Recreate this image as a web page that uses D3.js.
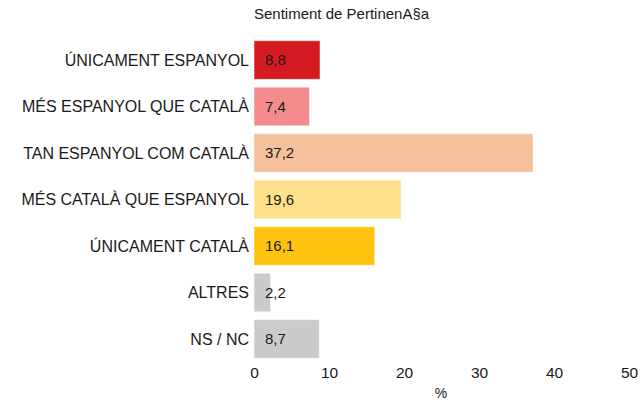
<!DOCTYPE html>
<html>
<head>
<meta charset="utf-8" />
<script src="https://cdn.jsdelivr.net/npm/d3@7"></script>
<style>
  html, body { margin: 0; padding: 0; background: #fff; }
  svg { display: block; font-family: "Liberation Sans", Arial, sans-serif; }
  .cat { font-size: 16px; fill: #1a1a1a; text-anchor: end; }
  .val { font-size: 15px; fill: #1a1a1a; }
  .tick text { font-size: 15.5px; fill: #1a1a1a; }
</style>
</head>
<body>
<svg id="chart" width="641" height="401"></svg>
<script>
const categories = [
  "ÚNICAMENT ESPANYOL",
  "MÉS ESPANYOL QUE CATALÀ",
  "TAN ESPANYOL COM CATALÀ",
  "MÉS CATALÀ QUE ESPANYOL",
  "ÚNICAMENT CATALÀ",
  "ALTRES",
  "NS / NC"
];
const values = [8.8, 7.4, 37.2, 19.6, 16.1, 2.2, 8.7];
const colors = ["#d51a22", "#f48b8c", "#f4c19b", "#fee08a", "#fec20f", "#cbcbcb", "#cbcbcb"];
const xTicks = [0, 10, 20, 30, 40, 50];

const svg = d3.select('#chart');

const x = d3.scaleLinear().domain([0, 50]).range([254, 629]);
const y = d3.scaleBand().domain(categories).range([37, 362]).paddingInner(0.17).paddingOuter(0.08);

svg.append('text')
   .attr('x', 254)
   .attr('y', 19)
   .style('font-size', '15px')
   .style('fill', '#1a1a1a')
   .text('Sentiment de PertinenA§a');

const rows = svg.append('g')
   .selectAll('g')
   .data(categories)
   .enter()
   .append('g');

rows.append('rect')
    .attr('x', x(0))
    .attr('y', d => y(d))
    .attr('width', (d, i) => x(values[i]) - x(0))
    .attr('height', y.bandwidth())
    .attr('fill', (d, i) => colors[i])
    .attr('stroke', 'rgba(255,255,255,0.5)')
    .attr('stroke-width', 1);

rows.append('text')
    .attr('class', 'cat')
    .attr('x', x(0) - 5)
    .attr('y', d => y(d) + y.bandwidth() / 2)
    .attr('dy', '0.36em')
    .text(d => d);

rows.append('text')
    .attr('class', 'val')
    .attr('x', x(0) + 11)
    .attr('y', d => y(d) + y.bandwidth() / 2)
    .attr('dy', '0.36em')
    .text((d, i) => String(values[i]).replace('.', ','));

const axis = d3.axisBottom(x).tickValues(xTicks).tickSize(0).tickPadding(0);
svg.append('g')
   .attr('transform', 'translate(0,364)')
   .call(axis)
   .call(g => g.select('.domain').remove())
   .selectAll('text')
   .attr('dy', '0.9em');

svg.append('text')
   .attr('x', 441)
   .attr('y', 398)
   .attr('text-anchor', 'middle')
   .style('font-size', '14px')
   .style('fill', '#1a1a1a')
   .text('%');
</script>
</body>
</html>
